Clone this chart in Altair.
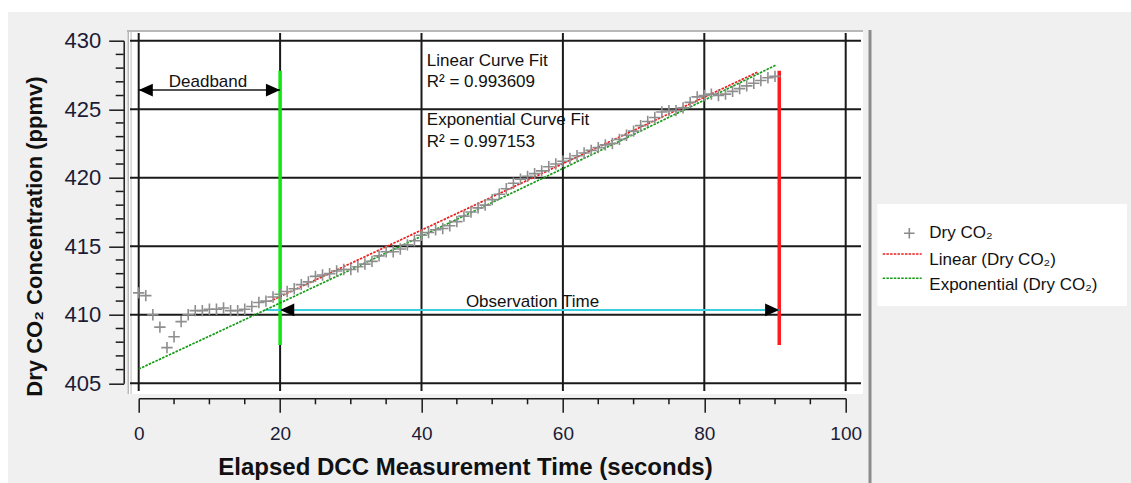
import altair as alt
import pandas as pd

# Dry CO2 readings (ppmv), one per second of elapsed DCC measurement time
elapsed_s = list(range(0, 91))
dry_co2 = [
    411.6, 411.4, 410.0, 409.1, 407.6, 408.4, 409.5, 410.0, 410.3, 410.3,
    410.4, 410.4, 410.5, 410.3, 410.3, 410.4, 410.6, 410.9, 411.0, 411.3,
    411.5, 411.7, 411.9, 412.2, 412.4, 412.8, 412.9, 413.0, 413.2, 413.3,
    413.3, 413.5, 413.7, 413.9, 414.3, 414.6, 414.6, 414.8, 415.1, 415.4,
    415.8, 416.0, 416.2, 416.3, 416.5, 416.8, 417.2, 417.5, 417.8, 418.0,
    418.4, 418.8, 419.2, 419.6, 419.9, 420.1, 420.3, 420.5, 420.8, 421.0,
    421.2, 421.4, 421.6, 421.8, 422.0, 422.2, 422.4, 422.5, 422.8, 423.1,
    423.4, 423.8, 424.1, 424.4, 424.8, 424.9, 424.9, 425.1, 425.5, 425.9,
    426.0, 426.1, 426.0, 426.1, 426.3, 426.5, 426.7, 426.9, 427.1, 427.3,
    427.4,
]

# Axis ticks
x_major = [0, 20, 40, 60, 80, 100]
x_minor = [5, 10, 15, 25, 30, 35, 45, 50, 55, 65, 70, 75, 85, 90, 95]
y_major = [405, 410, 415, 420, 425, 430]
y_minor = [v for v in range(406, 430) if v % 5]

# Trendline coefficients
lin_intercept, lin_slope = 406.48, 0.2425
lin_t = [18.5, 87.6]
exp_coef, exp_rate = 406.04, 0.00059
exp_t = [0, 10, 20, 30, 40, 50, 60, 70, 80, 90, 90.1]

# Deadband / observation window annotations
deadband_start, deadband_end, deadband_level = 0, 20, 426.4
obs_start, obs_end, obs_level, obs_line_from = 20, 90.6, 410.35, 17.8
marker_low, marker_high = 407.8, 427.8

notes_t = [40.75, 40.75, 40.75, 40.75]
notes_y = [428.15, 426.6, 423.85, 422.26]
notes_s = ["Linear Curve Fit", "R\u00b2 = 0.993609",
           "Exponential Curve Fit", "R\u00b2 = 0.997153"]

legend_labels = ["Dry CO\u2082", "Linear (Dry CO\u2082)", "Exponential (Dry CO\u2082)"]

W, H = 707, 342.6
INK = "#1a1a1a"
LABEL = "#1c1c36"
FONT = "Liberation Sans"
PLUS = "M-1,0L1,0M0,-1L0,1"
HEAD_LEFT = "M0,0L2,-0.9L2,0.9Z"
HEAD_RIGHT = "M0,0L-2,-0.9L-2,0.9Z"

x_scale = alt.Scale(domain=[0, 100], nice=False, zero=False)
y_scale = alt.Scale(domain=[405, 430], nice=False, zero=False)
x_axis = alt.Axis(values=x_major, offset=15, tickSize=14, tickWidth=1.5,
                  tickColor=INK, domainColor=INK, domainWidth=1.5,
                  labelFontSize=19, labelFont=FONT, labelColor=LABEL,
                  labelPadding=12, labelFlush=False, labelOverlap=False,
                  grid=False, title=None, zindex=2)
y_axis = alt.Axis(values=y_major, offset=15, tickSize=15, tickWidth=1.5,
                  tickColor=INK, domainColor=INK, domainWidth=1.5,
                  labelFontSize=22, labelFont=FONT, labelColor=LABEL,
                  labelPadding=8, labelOverlap=False,
                  grid=False, title=None, zindex=2)


def X(field):
    return alt.X(field, type="quantitative", scale=x_scale, axis=x_axis)


def Y(field):
    return alt.Y(field, type="quantitative", scale=y_scale, axis=y_axis)


one = pd.DataFrame({"k": [0]})


def px_rect(x, x2, y, y2, color):
    return alt.Chart(one).mark_rect(color=color).encode(
        x=alt.value(x), x2=alt.value(x2), y=alt.value(y), y2=alt.value(y2))


def px_rule(x, x2, y, y2, color, width, dash=None):
    kw = dict(color=color, strokeWidth=width)
    if dash:
        kw["strokeDash"] = dash
    return alt.Chart(one).mark_rule(**kw).encode(
        x=alt.value(x), x2=alt.value(x2), y=alt.value(y), y2=alt.value(y2))


def px_text(x, y, s, size, bold=False, angle=0, align="left", baseline="middle"):
    kw = dict(font=FONT, fontSize=size, color="#111111", align=align,
              baseline=baseline, fontWeight="bold" if bold else "normal")
    if angle:
        kw["angle"] = angle
    return alt.Chart(one).mark_text(text=s, **kw).encode(
        x=alt.value(x), y=alt.value(y))


# Frame around the plotting panel
strips = [
    px_rect(-138.7, 992.3, -40.7, -28.7, "white"),
    px_rect(-138.7, -130.7, -40.7, 442.3, "white"),
]
panel = px_rect(-11.7, 724.3, -10.7, 353.3, "white")
borders = [
    px_rule(-10.5, -10.5, -10.7, 353.3, "#b4b4b4", 1.5),
    px_rule(-7.6, -7.6, -10.7, 353.3, "#c8c8c8", 1.2),
    px_rule(-11.7, 724.3, -9.7, -9.7, "#b8b8b8", 2),
    px_rule(731.3, 731.3, -10.7, 442.3, "#8c8c8c", 3),
]

# Grid lines
vgrid = alt.Chart(pd.DataFrame({"g": x_major})).mark_rule(
    color=INK, strokeWidth=2).encode(x=X("g"), y=alt.value(-7.7), y2=alt.value(350.3))
hgrid = alt.Chart(pd.DataFrame({"g": y_major})).mark_rule(
    color=INK, strokeWidth=2).encode(y=Y("g"), x=alt.value(-8.7), x2=alt.value(722.3))

# Minor ticks on both axes
xminor = alt.Chart(pd.DataFrame({"g": x_minor})).mark_rule(
    color=INK, strokeWidth=1.5).encode(x=X("g"), y=alt.value(H + 15), y2=alt.value(H + 21))
yminor = alt.Chart(pd.DataFrame({"g": y_minor})).mark_rule(
    color=INK, strokeWidth=1.5).encode(y=Y("g"), x=alt.value(-15), x2=alt.value(-23))

# Start / end markers of the observation window
markers = alt.Chart(pd.DataFrame({
    "t": [obs_start, obs_end],
    "lo": [marker_low, marker_low],
    "hi": [marker_high, marker_high],
    "c": ["#14e614", "#ff1c1c"],
})).mark_rule(strokeWidth=3.5).encode(
    x=X("t"), y=Y("lo"), y2=alt.Y2("hi"), color=alt.Color("c:N", scale=None))

# Deadband and observation arrows
deadband_line = alt.Chart(pd.DataFrame({
    "t0": [deadband_start], "t1": [deadband_end], "y": [deadband_level]
})).mark_rule(color=INK, strokeWidth=1.5).encode(
    x=X("t0"), x2=alt.X2("t1"), y=Y("y"))
obs_line = alt.Chart(pd.DataFrame({
    "t0": [obs_line_from], "t1": [obs_end], "y": [obs_level]
})).mark_rule(color="#3ccfe0", strokeWidth=2).encode(
    x=X("t0"), x2=alt.X2("t1"), y=Y("y"))
heads_left = alt.Chart(pd.DataFrame({
    "t": [deadband_start, obs_start], "y": [deadband_level, obs_level]
})).mark_point(shape=HEAD_LEFT, filled=True, size=200, color="black", opacity=1).encode(
    x=X("t"), y=Y("y"))
heads_right = alt.Chart(pd.DataFrame({
    "t": [deadband_end, obs_end], "y": [deadband_level, obs_level]
})).mark_point(shape=HEAD_RIGHT, filled=True, size=200, color="black", opacity=1).encode(
    x=X("t"), y=Y("y"))

# Trendlines
lin_df = pd.DataFrame({"t": lin_t, "v": [lin_intercept + lin_slope * t for t in lin_t]})
exp_df = pd.DataFrame({"t": exp_t})
exp_df["v"] = exp_coef * (2.718281828459045 ** (exp_rate * exp_df["t"]))
lin_line = alt.Chart(lin_df).mark_line(
    color="#ee1c1c", strokeWidth=1.7, strokeDash=[2.5, 1.2]).encode(x=X("t"), y=Y("v"))
exp_line = alt.Chart(exp_df).mark_line(
    color="#169a16", strokeWidth=1.7, strokeDash=[2.5, 1.2]).encode(x=X("t"), y=Y("v"))

# Measurements
points = alt.Chart(pd.DataFrame({"t": elapsed_s, "co2": dry_co2})).mark_point(
    shape=PLUS, filled=False, size=130, strokeWidth=1.6, color="#8e8e8e", opacity=1
).encode(x=X("t"), y=Y("co2"))

# Text annotations
notes = alt.Chart(pd.DataFrame({"t": notes_t, "y": notes_y, "s": notes_s})).mark_text(
    align="left", baseline="alphabetic", font=FONT, fontSize=17, color="#111111"
).encode(x=X("t"), y=Y("y"), text="s:N")
deadband_text = alt.Chart(pd.DataFrame({"t": [9.8], "y": [426.62], "s": ["Deadband"]})).mark_text(
    align="center", baseline="alphabetic", font=FONT, fontSize=17, color="#111111"
).encode(x=X("t"), y=Y("y"), text="s:N")
obs_text = alt.Chart(pd.DataFrame({"t": [55.7], "y": [410.6], "s": ["Observation Time"]})).mark_text(
    align="center", baseline="alphabetic", font=FONT, fontSize=17, color="#111111"
).encode(x=X("t"), y=Y("y"), text="s:N")

# Legend
legend = [
    px_rect(738.6, 988.3, 163.3, 265.3, "white"),
    alt.Chart(one).mark_point(shape=PLUS, filled=False, size=110, strokeWidth=1.6,
                              color="#8a8a8a", opacity=1).encode(
        x=alt.value(770.6), y=alt.value(192.6)),
    px_rule(744, 783, 213.3, 213.3, "#ee1c1c", 1.5, [2.5, 1.2]),
    px_rule(744, 783, 237.6, 237.6, "#169a16", 1.5, [2.5, 1.2]),
    px_text(790.6, 192.3, legend_labels[0], 17),
    px_text(790.6, 218.8, legend_labels[1], 17),
    px_text(790.6, 243.8, legend_labels[2], 17),
]

# Axis titles
titles = [
    px_text(326.8, 434.3, "Elapsed DCC Measurement Time (seconds)", 24, bold=True,
            align="center", baseline="alphabetic"),
    px_text(-97.2, 195.8, "Dry CO\u2082 Concentration (ppmv)", 22, bold=True,
            angle=270, align="center", baseline="alphabetic"),
]

layers = (strips + [panel] + borders + [vgrid, hgrid, xminor, yminor, markers,
          deadband_line, obs_line, lin_line, exp_line, points, heads_left, heads_right,
          notes, deadband_text, obs_text] + legend + titles)

chart = alt.layer(*layers).properties(
    width=W, height=H,
    padding={"left": 138.7, "top": 40.7, "right": 285.3, "bottom": 99.7},
    autosize=alt.AutoSizeParams(type="none"),
    background="#f0f0f0",
).configure_view(stroke=None)

chart.save("out.html", embed_options={"renderer": "svg", "actions": False})
